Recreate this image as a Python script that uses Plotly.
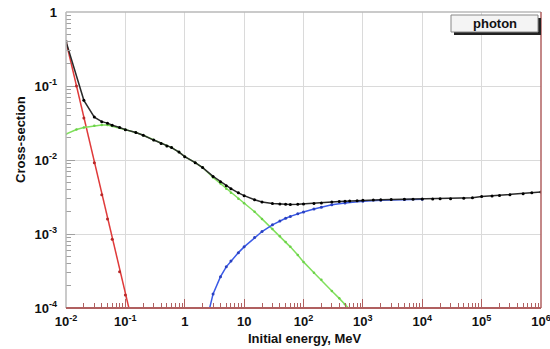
import plotly.graph_objects as go

# ---- data ----
E_total = [0.01, 0.02, 0.03, 0.04, 0.05, 0.06, 0.08, 0.1,
           0.15, 0.2, 0.3, 0.4, 0.5, 0.6, 0.8, 1,
           1.5, 2, 3, 4, 5, 6, 8, 10,
           15, 20, 30, 40, 50, 60, 80, 100,
           150, 200, 300, 400, 500, 600, 800, 1e3,
           1.5e3, 2e3, 3e3, 5e3, 7e3, 1e4,
           1.5e4, 2e4, 3e4, 5e4, 7e4, 1e5,
           1.5e5, 2e5, 3e5, 5e5, 7e5, 1e6]
total = [0.40, 0.064, 0.038, 0.033, 0.0315, 0.0295, 0.0275, 0.0257,
         0.0235, 0.0216, 0.0186, 0.0167, 0.0155, 0.0147, 0.0128, 0.0111,
         0.0092, 0.0079, 0.0060, 0.0051, 0.0045, 0.0041, 0.0036, 0.0033,
         0.0029, 0.0027, 0.00258, 0.00254, 0.00252, 0.00251, 0.00252, 0.00254,
         0.00258, 0.00263, 0.0027, 0.00274, 0.00277, 0.00279, 0.00282, 0.00285,
         0.00288, 0.0029, 0.00292, 0.00294, 0.00295, 0.00296,
         0.00298, 0.00299, 0.0030, 0.00305, 0.0031, 0.0032,
         0.00327, 0.00332, 0.0034, 0.0035, 0.0036, 0.0037]

E_compt = [0.01, 0.015, 0.02, 0.03, 0.04, 0.05, 0.06, 0.08, 0.1,
           0.15, 0.2, 0.3, 0.4, 0.5, 0.6, 0.8, 1,
           1.5, 2, 3, 4, 5, 6, 8, 10,
           15, 20, 30, 40, 50, 60, 80, 100,
           150, 200, 300, 400, 500, 600, 800]
compt = [0.0225, 0.0258, 0.0275, 0.0290, 0.0297, 0.0298, 0.0287, 0.0272, 0.0256,
         0.0235, 0.0216, 0.0186, 0.0167, 0.0155, 0.0147, 0.0128, 0.0111,
         0.0092, 0.0079, 0.0058, 0.0048, 0.0041, 0.0036, 0.0030, 0.0026,
         0.0020, 0.0016, 0.00117, 0.00093, 0.00078, 0.00067, 0.00052, 0.00042,
         0.0003, 0.00024, 0.00017, 0.000135, 0.000112, 0.000096, 0.000075]

E_conv = [2, 2.5, 3, 4, 5, 6, 8, 10,
          15, 20, 30, 40, 50, 60, 80, 100,
          150, 200, 300, 500, 1000, 2000, 5000, 1e4]
conv = [3e-5, 8.5e-5, 1.55e-4, 2.65e-4, 3.6e-4, 4.3e-4, 5.6e-4, 6.7e-4,
        9.0e-4, 1.08e-3, 1.33e-3, 1.5e-3, 1.63e-3, 1.73e-3, 1.88e-3, 1.98e-3,
        2.17e-3, 2.3e-3, 2.48e-3, 2.62e-3, 2.78e-3, 2.86e-3, 2.92e-3, 2.95e-3]

E_phot = [0.01, 0.015, 0.02, 0.03, 0.04, 0.05, 0.06, 0.08, 0.1, 0.15]
phot = [0.40, 0.100, 0.037, 0.0092, 0.0034, 0.0016, 0.00085, 0.00031, 0.00015, 0.00004]

x_tickvals = [1e-2, 1e-1, 1, 10, 1e2, 1e3, 1e4, 1e5, 1e6]
x_ticktext = ["10<sup>-2</sup>", "10<sup>-1</sup>", "1", "10", "10<sup>2</sup>",
              "10<sup>3</sup>", "10<sup>4</sup>", "10<sup>5</sup>", "10<sup>6</sup>"]
y_tickvals = [1e-4, 1e-3, 1e-2, 1e-1, 1]
y_ticktext = ["10<sup>-4</sup>", "10<sup>-3</sup>", "10<sup>-2</sup>", "10<sup>-1</sup>", "1"]

x_title = "Initial energy, MeV"
y_title = "Cross-section"
legend_text = "photon"

# ---- figure ----
FONT = "Liberation Sans"
W, H = 550, 349
L, R, T, B = 66, 9, 12, 41
pw, ph = W - L - R, H - T - B


def px(xp):
    return (xp - L) / pw


def py(yp):
    return (H - B - yp) / ph


fig = go.Figure()
series = [
    (E_phot, phot, "#e03a3a", "#b82828", 3),
    (E_compt, compt, "#80e05c", "#6cd048", 2.5),
    (E_conv, conv, "#3a5ae6", "#2a40c0", 3),
    (E_total, total, "#2a2a2a", "#000000", 3),
]
for xs, ys, lc, mc, ms in series:
    fig.add_trace(go.Scatter(
        x=xs, y=ys, mode="lines+markers",
        line=dict(color=lc, width=1.5),
        marker=dict(color=mc, size=ms),
        showlegend=False, cliponaxis=True))

axis_common = dict(
    type="log", showgrid=True, gridcolor="#dadada", gridwidth=1,
    zeroline=False, ticks="inside", ticklen=9,
    tickfont=dict(family=FONT, size=13, color="#111111", weight="bold"),
    automargin=False, showline=False, ticklabeloverflow="allow",
)

fig.update_xaxes(range=[-2, 6], tickvals=x_tickvals, ticktext=x_ticktext,
                 tickcolor="#b06060", ticklabelstandoff=4,
                 minor=dict(ticks="inside", ticklen=5, tickcolor="#b06060",
                            dtick="D1", showgrid=False),
                 **axis_common)
fig.update_yaxes(range=[-4, 0], tickvals=y_tickvals, ticktext=y_ticktext,
                 tickcolor="#a0a0a0", ticklabelstandoff=8,
                 minor=dict(ticks="inside", ticklen=5, tickcolor="#a0a0a0",
                            dtick="D1", showgrid=False),
                 **axis_common)

shapes = [
    # top & left frame (gray)
    dict(type="line", xref="paper", yref="paper", x0=0, x1=1, y0=1, y1=1,
         line=dict(color="#b8b8b8", width=1.5)),
    dict(type="line", xref="paper", yref="paper", x0=0, x1=0, y0=0, y1=1,
         line=dict(color="#b8b8b8", width=1.5)),
    # bottom & right frame (reddish)
    dict(type="line", xref="paper", yref="paper", x0=0, x1=1, y0=0, y1=0,
         line=dict(color="#b06060", width=2)),
    dict(type="line", xref="paper", yref="paper", x0=1, x1=1, y0=0, y1=1,
         line=dict(color="#b06060", width=1.5)),
    # legend box shadow + box
    dict(type="rect", xref="paper", yref="paper",
         x0=px(454), x1=px(541), y0=py(35), y1=py(18),
         line=dict(width=0), fillcolor="#222222"),
    dict(type="rect", xref="paper", yref="paper",
         x0=px(451), x1=px(538), y0=py(32), y1=py(15),
         line=dict(color="#888888", width=1), fillcolor="#f4f4f4"),
]

annotations = [
    dict(text=legend_text, xref="paper", yref="paper", x=px(495), y=py(23.5),
         showarrow=False, xanchor="center", yanchor="middle",
         font=dict(family=FONT, size=13, color="#111111", weight="bold")),
    dict(text=x_title, xref="paper", yref="paper", x=px(305), y=py(338),
         showarrow=False, xanchor="center", yanchor="middle",
         font=dict(family=FONT, size=13, color="#111111", weight="bold")),
    dict(text=y_title, xref="paper", yref="paper", x=px(20), y=py(140),
         showarrow=False, xanchor="center", yanchor="middle", textangle=-90,
         font=dict(family=FONT, size=13, color="#111111", weight="bold")),
]

fig.update_layout(
    width=W, height=H,
    margin=dict(l=L, r=R, t=T, b=B, pad=0),
    paper_bgcolor="white", plot_bgcolor="white",
    shapes=shapes, annotations=annotations,
    showlegend=False,
)

fig.write_html("out.html")
